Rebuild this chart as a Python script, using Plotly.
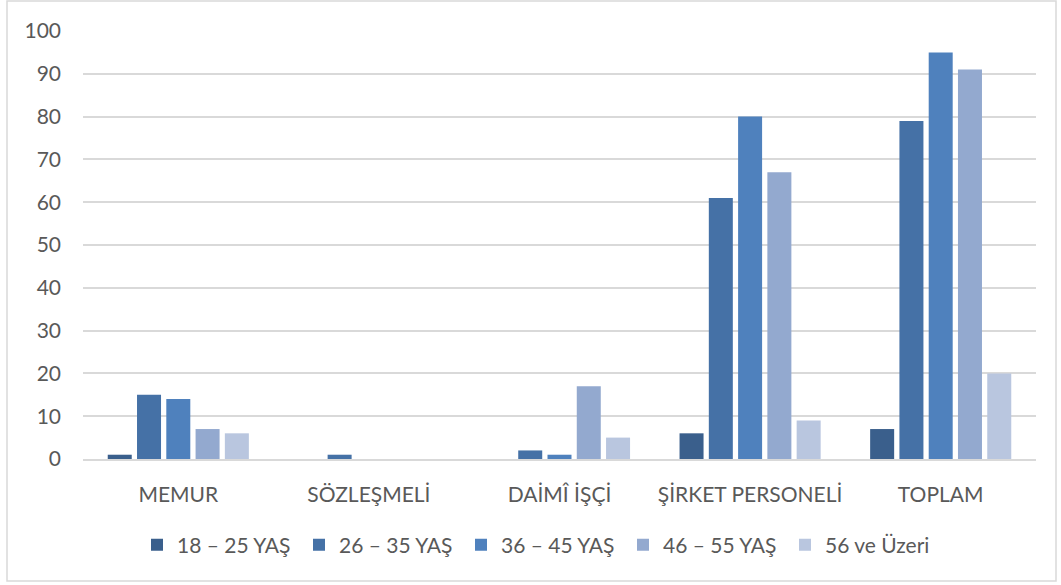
import plotly.graph_objects as go

categories = ["MEMUR", "SÖZLEŞMELİ", "DAİMÎ İŞÇİ", "ŞİRKET PERSONELİ", "TOPLAM"]
series_names = ["18 – 25 YAŞ", "26 – 35 YAŞ", "36 – 45 YAŞ", "46 – 55 YAŞ", "56 ve Üzeri"]
age_18_25 = [1, 0, 0, 6, 7]
age_26_35 = [15, 1, 2, 61, 79]
age_36_45 = [14, 0, 1, 80, 95]
age_46_55 = [7, 0, 17, 67, 91]
age_56_plus = [6, 0, 5, 9, 20]
y_ticks = [0, 10, 20, 30, 40, 50, 60, 70, 80, 90, 100]

colors = ["#3A5F8C", "#4571A6", "#4F81BD", "#93A9CF", "#B9C6DF"]
all_series = [age_18_25, age_26_35, age_36_45, age_46_55, age_56_plus]

fig = go.Figure()
for name, vals, col in zip(series_names, all_series, colors):
    fig.add_trace(go.Bar(x=categories, y=vals, name=name, marker=dict(color=col, line=dict(width=0))))

W, H = 1061, 585
ml, mr, mt, mb = 83, 25, 31, 126
pw, ph = W - ml - mr, H - mt - mb

def px_x(p):
    return (p - ml) / pw

def px_y(p):
    return (H - mb - p) / ph

font_fam = "Lato, 'Open Sans', sans-serif"
fig.update_layout(
    width=W, height=H,
    margin=dict(l=ml, r=mr, t=mt, b=mb, pad=0),
    paper_bgcolor="white", plot_bgcolor="white",
    barmode="group", bargap=0.232, bargroupgap=0.18,
    font=dict(family=font_fam, size=21, color="#595959"),
    showlegend=True,
    legend=dict(orientation="h", x=px_x(137), xanchor="left", y=px_y(545), yanchor="middle",
                font=dict(size=21, color="#595959"), itemwidth=30, entrywidth=117,
                traceorder="normal"),
    xaxis=dict(showgrid=False, showline=True, linecolor="#D9D9D9", linewidth=1.5,
               ticks="", tickfont=dict(size=21, color="#595959"), ticklabelstandoff=16),
    yaxis=dict(range=[0, 100], tickvals=y_ticks, showgrid=True, gridcolor="#D9D9D9",
               gridwidth=1.5, zeroline=False, showline=False, ticks="",
               tickfont=dict(size=21, color="#595959"), ticklabelstandoff=21),
    shapes=[dict(type="rect", xref="paper", yref="paper",
                 x0=px_x(7), x1=px_x(1056), y0=px_y(581), y1=px_y(1),
                 line=dict(color="#D9D9D9", width=1.5), fillcolor="rgba(0,0,0,0)", layer="below")],
)

fig.write_html("out.html", config={"displayModeBar": False},
               post_script="document.body.style.margin='0';")
